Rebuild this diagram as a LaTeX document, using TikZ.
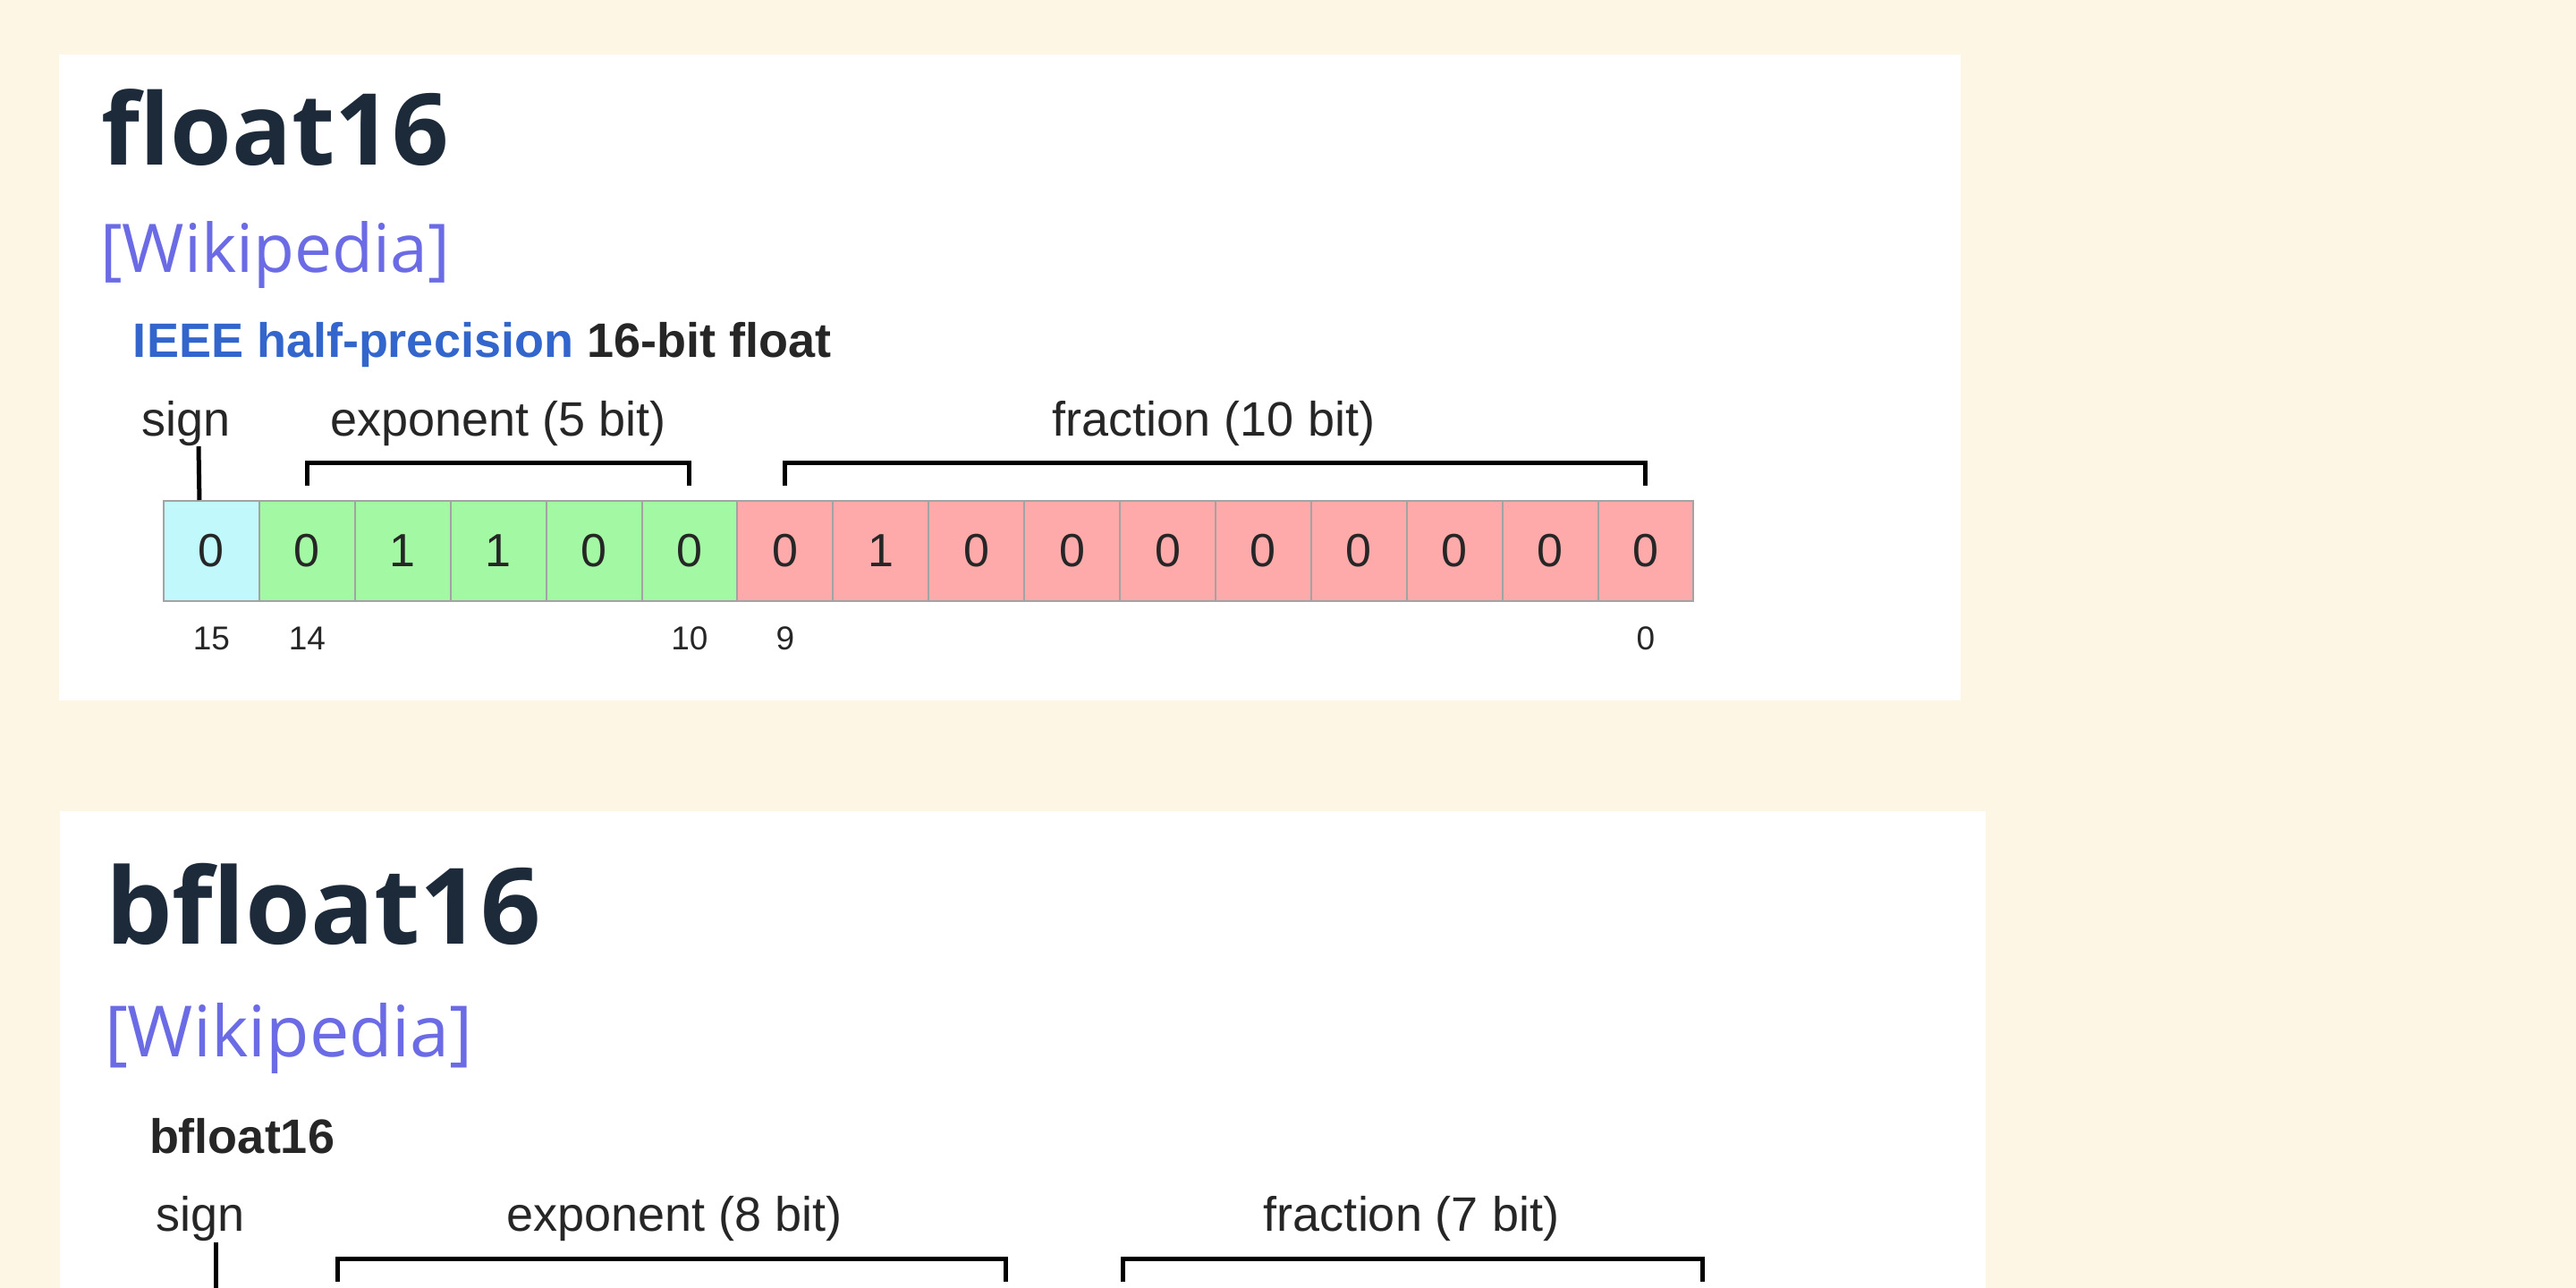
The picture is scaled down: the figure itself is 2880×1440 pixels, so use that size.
\documentclass[tikz,border=0pt]{standalone}
\usepackage{fontspec}
\setmainfont{Liberation Sans}
\newfontfamily\headfont{Open Sans}
\usetikzlibrary{positioning}

\definecolor{paper}{HTML}{FEF6E4}
\definecolor{titlec}{HTML}{1C2A3A}
\definecolor{wikic}{HTML}{6B6BE6}
\definecolor{ieeec}{HTML}{3366CC}
\definecolor{fieldtext}{HTML}{262626}
\definecolor{cellline}{HTML}{A3A3A3}
\definecolor{signc}{HTML}{C0F8FC}
\definecolor{expc}{HTML}{A3F8A3}
\definecolor{fracc}{HTML}{FFAAAA}

\begin{document}
\begin{tikzpicture}[
    x=0.1pt,
    y=-0.1pt,
    panel/.style={
        fill=white,
    },
    title/.style={
        anchor=base west,
        inner sep=0pt,
        text=titlec,
        font=\headfont\bfseries\fontsize{#1}{13}\selectfont,
    },
    wiki/.style={
        anchor=base west,
        inner sep=0pt,
        text=wikic,
        font=\headfont\fontsize{#1}{9}\selectfont,
    },
    heading/.style={
        anchor=base west,
        inner sep=0pt,
        text=fieldtext,
        font=\bfseries\fontsize{5.4}{6}\selectfont,
    },
    field/.style={
        anchor=base,
        inner sep=0pt,
        text=fieldtext,
        font=\fontsize{5.4}{6}\selectfont,
    },
    bitcell/.style={
        draw=cellline,
        line width=0.2pt,
        anchor=north west,
        minimum width=10.69pt,
        minimum height=11.2pt,
        inner sep=0pt,
        text=fieldtext,
        font=\fontsize{5.2}{6}\selectfont,
    },
    bitnum/.style={
        anchor=base,
        inner sep=0pt,
        text=fieldtext,
        font=\fontsize{3.7}{4}\selectfont,
    },
    bracket/.style={
        line width=0.5pt,
        line cap=butt,
    }
]
    % Background and panels
    \useasboundingbox (0,0) rectangle (2880,1440);
    \fill[paper] (0,0) rectangle (2880,1440);
    \fill[panel] (66,61) rectangle (2192,783);
    \fill[panel] (67,907) rectangle (2220,1440);

    % float16
    \node[title=11.1] (t16) at (112,185) {float16};
    \node[wiki=7.5] (w16) at (110,305) {[Wikipedia]};
    \node[heading] (h16) at (147,400) {\textcolor{ieeec}{IEEE half-precision} 16-bit float};

    % Cells
    \foreach \b/\c [count=\i from 0] in {0/signc, 0/expc, 1/expc, 1/expc, 0/expc, 0/expc,
        0/fracc, 1/fracc, 0/fracc, 0/fracc, 0/fracc, 0/fracc, 0/fracc, 0/fracc, 0/fracc, 0/fracc}
        \node[bitcell, fill=\c] (c\i) at ({182+\i*106.9},559) {\b};

    % Bit numbers
    \node[bitnum] at ([yshift=-5.35pt]c0.south) {15};
    \node[bitnum] at ([yshift=-5.35pt]c1.south) {14};
    \node[bitnum] at ([yshift=-5.35pt]c5.south) {10};
    \node[bitnum] at ([yshift=-5.35pt]c6.south) {9};
    \node[bitnum] at ([yshift=-5.35pt]c15.south) {0};

    % Field labels
    \node[field] (sgn16) at (208,487) {sign};
    \node[field] (exp16) at (557,487) {exponent (5 bit)};
    \node[field] (frac16) at (1357,487) {fraction (10 bit)};
    \coordinate (sgnline16) at (222,499);
    \draw[bracket] (sgnline16) -- ([xshift=-1.35pt]c0.north);
    \draw[bracket] ([yshift=1.6pt]c1.north) -- ([yshift=4.2pt]c1.north)
        -- ([yshift=4.2pt]c5.north) -- ([yshift=1.6pt]c5.north);
    \draw[bracket] ([yshift=1.6pt]c6.north) -- ([yshift=4.2pt]c6.north)
        -- ([yshift=4.2pt]c15.north) -- ([yshift=1.6pt]c15.north);

    % bfloat16
    \node[title=11.8] (tb16) at (116,1055) {bfloat16};
    \node[wiki=7.9] (wb16) at (115,1181) {[Wikipedia]};
    \node[heading] (hb16) at (165,1289) {bfloat16};

    % Field labels
    \node[field] (sgnb16) at (224,1376) {sign};
    \node[field] (expb16) at (754,1376) {exponent (8 bit)};
    \node[field] (fracb16) at (1578,1376) {fraction (7 bit)};
    \draw[bracket] (241.6,1389) -- (241.6,1440);
    \draw[bracket] (377,1433) -- (377,1407) -- (1124.5,1407) -- (1124.5,1433);
    \draw[bracket] (1255,1433) -- (1255,1407) -- (1903.6,1407) -- (1903.6,1433);
\end{tikzpicture}
\end{document}
